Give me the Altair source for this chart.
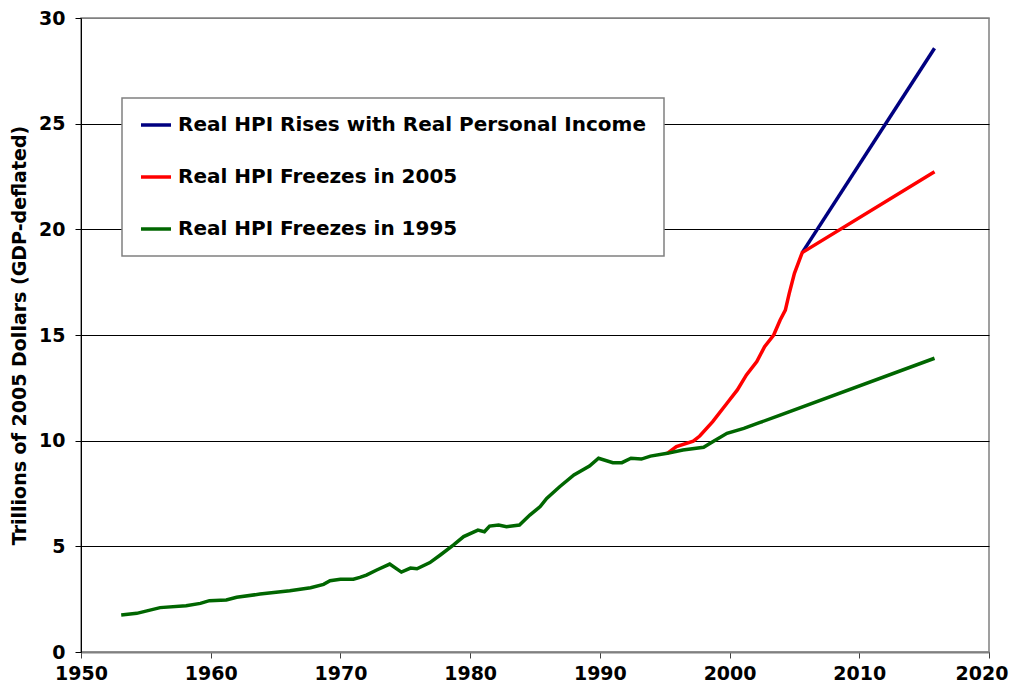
import altair as alt
import pandas as pd

# ---- data ----
hist_year = [1953.1, 1954.3, 1956.1, 1958.1, 1959.2, 1959.9, 1961.2, 1962.0, 1963.8,
             1966.1, 1967.7, 1968.7, 1969.2, 1970.0, 1971.0, 1971.5, 1972.0, 1972.8,
             1973.8, 1974.7, 1975.4, 1975.9, 1976.9, 1977.7, 1978.7, 1979.5, 1980.6,
             1981.1, 1981.5, 1982.2, 1982.8, 1983.8, 1984.6, 1985.4, 1985.9, 1986.9,
             1988.0, 1989.2, 1989.9, 1991.0, 1991.7, 1992.4, 1993.2, 1993.9, 1995.2]
hist_val = [1.75, 1.83, 2.10, 2.19, 2.30, 2.43, 2.46, 2.59, 2.74,
            2.90, 3.04, 3.20, 3.37, 3.44, 3.44, 3.53, 3.64, 3.88,
            4.16, 3.78, 3.97, 3.94, 4.23, 4.59, 5.06, 5.46, 5.77,
            5.69, 5.96, 6.01, 5.93, 6.01, 6.48, 6.88, 7.27, 7.82,
            8.38, 8.80, 9.17, 8.96, 8.96, 9.17, 9.13, 9.27, 9.40]

boom_year = [1995.2, 1995.9, 1997.2, 1997.7, 1998.7, 1999.8, 2000.6, 2001.3, 2002.1,
             2002.7, 2003.4, 2003.9, 2004.3, 2004.6, 2005.0, 2005.6]
boom_val = [9.40, 9.72, 9.98, 10.22, 10.90, 11.77, 12.40, 13.11, 13.74,
            14.45, 15.00, 15.71, 16.18, 16.97, 17.92, 18.90]

blue_year = [2005.6, 2015.8]
blue_val = [18.90, 28.57]

red_ext_year = [2015.8]
red_ext_val = [22.73]

green_ext_year = [1996.4, 1998.0, 1998.7, 1999.8, 2001.1, 2002.3, 2003.9, 2015.8]
green_ext_val = [9.56, 9.69, 9.95, 10.35, 10.58, 10.85, 11.21, 13.90]

S_BLUE = "Real HPI Rises with Real Personal Income"
S_RED = "Real HPI Freezes in 2005"
S_GREEN = "Real HPI Freezes in 1995"
series_names = [S_BLUE, S_RED, S_GREEN]
series_colors = ["#000080", "#FF0000", "#006600"]

y_ticks = [0, 5, 10, 15, 20, 25, 30]
x_ticks = [1950, 1960, 1970, 1980, 1990, 2000, 2010, 2020]

rows = []
for yr, v in zip(blue_year, blue_val):
    rows.append({"series": S_BLUE, "year": yr, "value": v})
for yr, v in zip(boom_year + red_ext_year, boom_val + red_ext_val):
    rows.append({"series": S_RED, "year": yr, "value": v})
for yr, v in zip(hist_year + green_ext_year, hist_val + green_ext_val):
    rows.append({"series": S_GREEN, "year": yr, "value": v})
df = pd.DataFrame(rows)

FONT = "DejaVu Sans"

x_enc = alt.X(
    "year:Q",
    scale=alt.Scale(domain=[1950, 2020], nice=False, zero=False),
    axis=alt.Axis(
        values=x_ticks, format="d", title=None, grid=False,
        tickSize=6, tickColor="#404040", tickWidth=1,
        domainColor="#808080", domainWidth=2,
        labelFont=FONT, labelFontSize=19, labelFontWeight="bold",
        labelColor="black", labelPadding=6, labelFlush=False, labelOverlap=False,
        labelAlign={"condition": {"test": "datum.value >= 2020", "value": "right"}, "value": "center"},
        labelOffset={"condition": {"test": "datum.value >= 2020", "value": 19}, "value": 0},
    ),
)
y_enc = alt.Y(
    "value:Q",
    scale=alt.Scale(domain=[0, 30], nice=False, zero=True),
    axis=alt.Axis(
        values=y_ticks, grid=True,
        gridColor={"condition": {"test": "datum.value >= 30", "value": "#808080"}, "value": "#000000"},
        gridWidth=1,
        tickSize=6, tickColor="#000000", tickWidth=1,
        domainColor="#000000", domainWidth=1,
        labelFont=FONT, labelFontSize=19, labelFontWeight="bold",
        labelColor="black", labelPadding=10,
        title="Trillions of 2005 Dollars (GDP-deflated)",
        titleFont=FONT, titleFontSize=19, titleFontWeight="bold", titleColor="black",
        titleAngle=270, titleX=-56, titleY=317, titleBaseline="alphabetic", titleAlign="center",
    ),
)
color_enc = alt.Color(
    "series:N",
    scale=alt.Scale(domain=series_names, range=series_colors),
    legend=alt.Legend(
        title=None, orient="none", legendX=41, legendY=80,
        symbolType="stroke", symbolSize=900, symbolStrokeWidth=3.5,
        labelFont=FONT, labelFontSize=20, labelFontWeight="bold", labelColor="black",
        labelOffset=5, labelLimit=0, rowPadding=32, padding=17, clipHeight=20,
        strokeColor="#808080", fillColor="white",
    ),
)

base = alt.Chart(df).mark_line(strokeWidth=3.5).encode(x=x_enc, y=y_enc, color=color_enc)

layers = [base.transform_filter(alt.datum.series == s) for s in series_names]

chart = alt.layer(*layers).properties(
    width=908, height=634,
    autosize=alt.AutoSizeParams(type="none"),
    padding={"left": 73, "top": 10, "right": 20, "bottom": 31},
).configure_view(
    stroke="#808080", strokeWidth=1.5
).configure_legend(
    strokeWidth=1.5
)

chart.save("out.html", embed_options={"renderer": "svg", "actions": False})
